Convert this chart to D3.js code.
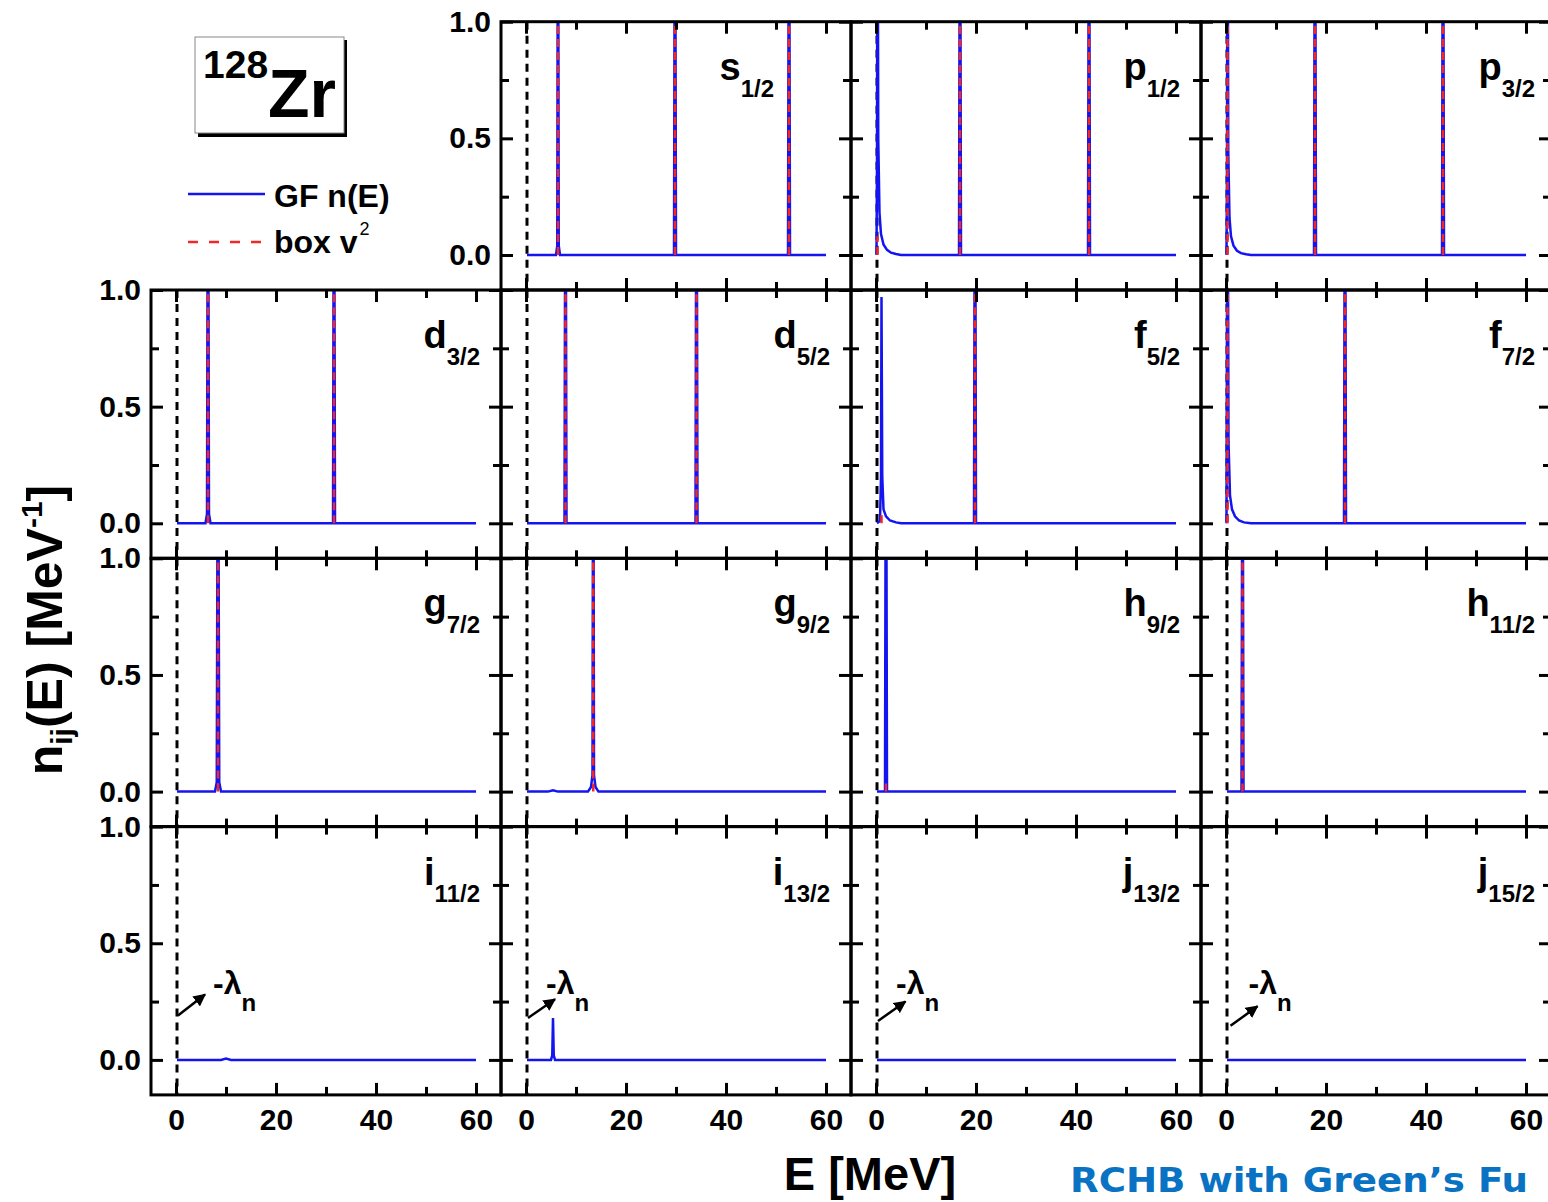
<!DOCTYPE html>
<html>
<head>
<meta charset="utf-8">
<script src="https://cdn.jsdelivr.net/npm/d3@7"></script>
<style>
    body { margin: 0; background: #fff; }
    svg { display: block; font-family: "Liberation Sans", Arial, sans-serif; font-weight: bold; }
</style>
</head>
<body>
<svg id="graph-svg" width="1548" height="1202"></svg>
<script>
// axis ticks (E in MeV, n in MeV^-1)
var xTicksMajor = [0, 20, 40, 60];
var xTicksMinor = [10, 30, 50];
var yTicksMajor = [0, 0.5, 1.0];
var yTicksMinor = [0.25, 0.75];
var yTickLabels = ['0.0', '0.5', '1.0'];

// panel names, in reading order (top row has no first column)
var orbitals = ['s', 'p', 'p', 'd', 'd', 'f', 'f', 'g', 'g', 'h', 'h', 'i', 'i', 'j', 'j'];
var jValues = ['1/2', '1/2', '3/2', '3/2', '5/2', '5/2', '7/2', '7/2', '9/2', '9/2', '11/2', '11/2', '13/2', '13/2', '15/2'];

// -lambda_n (MeV)
var lambdaN = 0.2;

// GF n(E): [E, n]
var gfS12 = [[0.2, 0], [6.0, 0], [6.25, 0.04], [6.4, 2], [6.55, 0.04], [6.8, 0], [29.6, 0], [29.8, 2], [30.0, 0], [52.4, 0], [52.6, 2], [52.8, 0], [60, 0]];
var gfP12 = [[0.1, 0], [0.2, 0.4], [0.3, 2], [0.45, 0.5], [0.7, 0.18], [1.0, 0.09], [1.5, 0.045], [2.2, 0.022], [3.0, 0.01], [4.0, 0.004], [5.0, 0], [16.6, 0], [16.8, 2], [17.0, 0], [42.4, 0], [42.6, 2], [42.8, 0], [60, 0]];
var gfP32 = [[0.1, 0], [0.2, 0.4], [0.3, 2], [0.45, 0.45], [0.7, 0.16], [1.0, 0.08], [1.5, 0.04], [2.2, 0.018], [3.0, 0.008], [4.0, 0.003], [5.0, 0], [17.6, 0], [17.8, 2], [18.0, 0], [43.2, 0], [43.4, 2], [43.6, 0], [60, 0]];
var gfD32 = [[0.2, 0], [5.9, 0], [6.2, 0.04], [6.4, 2], [6.6, 0.04], [6.9, 0], [31.4, 0], [31.6, 2], [31.8, 0], [60, 0]];
var gfD52 = [[0.2, 0], [7.7, 0], [7.9, 2], [8.1, 0], [33.9, 0], [34.1, 2], [34.3, 0], [60, 0]];
var gfF52 = [[0.2, 0], [0.8, 0.01], [1.0, 0.2], [1.1, 0.97], [1.25, 0.2], [1.5, 0.06], [2.0, 0.03], [2.8, 0.012], [4.0, 0.004], [5.0, 0], [19.6, 0], [19.8, 2], [20.0, 0], [60, 0]];
var gfF72 = [[0.1, 0], [0.3, 2], [0.5, 0.35], [0.8, 0.12], [1.2, 0.06], [1.8, 0.03], [2.6, 0.012], [3.6, 0.004], [5.0, 0], [23.6, 0], [23.8, 2], [24.0, 0], [60, 0]];
var gfG72 = [[0.2, 0], [7.8, 0], [8.15, 0.04], [8.4, 2], [8.65, 0.04], [9.0, 0], [60, 0]];
var gfG92 = [[0.2, 0], [4.4, 0], [5.4, 0.006], [6.4, 0], [12.4, 0], [13.0, 0.02], [13.3, 0.07], [13.45, 2], [13.6, 0.07], [13.9, 0.02], [14.5, 0], [60, 0]];
var gfH92 = [[0.2, 0], [1.8, 0], [2.0, 2], [2.2, 0], [60, 0]];
var gfH112 = [[0.2, 0], [3.1, 0], [3.3, 2], [3.5, 0], [60, 0]];
var gfI112 = [[0.2, 0], [9.0, 0], [10.0, 0.006], [11.0, 0], [60, 0]];
var gfI132 = [[0.2, 0], [5.0, 0], [5.25, 0.02], [5.4, 0.18], [5.55, 0.02], [5.8, 0], [60, 0]];
var gfJ132 = [[0.2, 0], [60, 0]];
var gfJ152 = [[0.2, 0], [60, 0]];

// box v^2: [E, height of the level line]
var boxS12 = [[6.4, 2], [29.8, 2], [52.6, 2]];
var boxP12 = [[0.3, 0.08], [16.8, 2], [42.6, 2]];
var boxP32 = [[0.3, 2], [17.8, 2], [43.4, 2]];
var boxD32 = [[6.4, 2], [31.6, 2]];
var boxD52 = [[7.9, 2], [34.1, 2]];
var boxF52 = [[1.1, 0.04], [19.8, 2]];
var boxF72 = [[0.3, 2], [23.8, 2]];
var boxG72 = [[8.4, 2]];
var boxG92 = [[13.45, 2]];
var boxH92 = [[2.0, 0.04]];
var boxH112 = [[3.3, 2]];
var boxI112 = [];
var boxI132 = [];
var boxJ132 = [];
var boxJ152 = [];

var gfSeries = [gfS12, gfP12, gfP32, gfD32, gfD52, gfF52, gfF72, gfG72, gfG92, gfH92, gfH112, gfI112, gfI132, gfJ132, gfJ152];
var boxSeries = [boxS12, boxP12, boxP32, boxD32, boxD52, boxF52, boxF72, boxG72, boxG92, boxH92, boxH112, boxI112, boxI132, boxJ132, boxJ152];

function loadGraph() {
    var svg = d3.select('#graph-svg');

    var left = 151,
        top = 21.7,
        panelW = 350,
        panelH = 268.3;

    var xScale = d3.scaleLinear().domain([-5, 65]).range([0, panelW]),
        yScale = d3.scaleLinear().domain([-0.15, 1.0]).range([panelH, 0]);

    var line = d3.line()
        .x(function (d) { return xScale(d[0]); })
        .y(function (d) { return yScale(d[1]); });

    var blue = '#1414f0',
        red = '#f02828';

    svg.append('marker')
        .attr('id', 'arrow')
        .attr('viewBox', '0 0 10 10')
        .attr('refX', 9)
        .attr('refY', 5)
        .attr('markerWidth', 5)
        .attr('markerHeight', 5)
        .attr('orient', 'auto')
        .append('path')
        .attr('d', 'M0,0L10,5L0,10z')
        .attr('fill', 'black');

    // small fixes for where the panel label sits from the right edge
    var labelInset = { 0: 77 };

    orbitals.forEach(function (orb, i) {
        var row = i < 3 ? 0 : Math.floor((i + 1) / 4),
            col = i < 3 ? i + 1 : (i + 1) % 4;
        var g = svg.append('g')
            .attr('transform', 'translate(' + (left + col * panelW) + ',' + (top + row * panelH) + ')');

        g.append('clipPath')
            .attr('id', 'clip' + i)
            .append('rect')
            .attr('width', panelW)
            .attr('height', panelH);

        var plot = g.append('g').attr('clip-path', 'url(#clip' + i + ')');

        // -lambda_n line
        plot.append('line')
            .attr('x1', xScale(lambdaN))
            .attr('x2', xScale(lambdaN))
            .attr('y1', 0)
            .attr('y2', panelH)
            .attr('stroke', 'black')
            .attr('stroke-width', 3)
            .attr('stroke-dasharray', '8,6');

        plot.append('path')
            .datum(gfSeries[i])
            .attr('d', line)
            .attr('fill', 'none')
            .attr('stroke', blue)
            .attr('stroke-width', 2.5);

        plot.selectAll('.level')
            .data(boxSeries[i])
            .enter()
            .append('line')
            .attr('class', 'level')
            .attr('x1', function (d) { return xScale(d[0]); })
            .attr('x2', function (d) { return xScale(d[0]); })
            .attr('y1', yScale(0))
            .attr('y2', function (d) { return yScale(d[1]); })
            .attr('stroke', red)
            .attr('stroke-width', 2.5)
            .attr('stroke-dasharray', '8,5');

        // ticks on all four sides, pointing in
        var axes = [
            [d3.axisBottom, 'x', 'translate(0,' + panelH + ')'],
            [d3.axisTop, 'x', 'translate(0,0)'],
            [d3.axisLeft, 'y', 'translate(0,0)'],
            [d3.axisRight, 'y', 'translate(' + panelW + ',0)']
        ];
        axes.forEach(function (a) {
            var sc = a[1] == 'x' ? xScale : yScale;
            var major = a[1] == 'x' ? xTicksMajor : yTicksMajor;
            var minor = a[1] == 'x' ? xTicksMinor : yTicksMinor;
            var ga = g.append('g').attr('transform', a[2]);
            ga.append('g').call(a[0](sc).tickValues(major).tickSize(-12).tickFormat(''));
            ga.append('g').call(a[0](sc).tickValues(minor).tickSize(-8).tickFormat(''));
            ga.selectAll('.domain').remove();
            ga.selectAll('.tick line').attr('stroke-width', 3).attr('stroke', 'black');
        });

        g.append('rect')
            .attr('width', panelW)
            .attr('height', panelH)
            .attr('fill', 'none')
            .attr('stroke', 'black')
            .attr('stroke-width', 3);

        // tick labels
        if (row == 3) {
            var bx = g.append('g')
                .attr('transform', 'translate(0,' + panelH + ')')
                .call(d3.axisBottom(xScale).tickValues(xTicksMajor).tickSize(0).tickPadding(14));
            bx.select('.domain').remove();
            bx.selectAll('text').attr('font-size', 30).attr('font-family', '"Liberation Sans", Arial, sans-serif').attr('font-weight', 'bold').attr('fill', 'black');
        }
        if (col == 0 || (row == 0 && col == 1)) {
            var ly = g.append('g')
                .call(d3.axisLeft(yScale).tickValues(yTicksMajor).tickSize(0).tickPadding(10)
                    .tickFormat(function (d, k) { return yTickLabels[k]; }));
            ly.select('.domain').remove();
            ly.selectAll('text').attr('font-size', 30).attr('font-family', '"Liberation Sans", Arial, sans-serif').attr('font-weight', 'bold').attr('fill', 'black');
        }

        // panel label
        var inset = labelInset[i] != null ? labelInset[i] : (col == 3 ? 16 : 21);
        var lab = g.append('text')
            .attr('x', panelW - inset)
            .attr('y', 58)
            .attr('text-anchor', 'end')
            .attr('font-size', 38);
        lab.append('tspan').text(orb);
        lab.append('tspan').attr('font-size', 24).attr('dy', 17).text(jValues[i]);

        // -lambda_n arrow in bottom row
        if (row == 3) {
            var arr = [[0.4, 0.19, 5.8, 0.28, 7.4], [0.4, 0.18, 5.8, 0.26, 4.0], [0.4, 0.167, 5.9, 0.25, 4.0], [0.9, 0.146, 6.3, 0.23, 4.5]][col];
            g.append('line')
                .attr('x1', xScale(arr[0]))
                .attr('y1', yScale(arr[1]))
                .attr('x2', xScale(arr[2]))
                .attr('y2', yScale(arr[3]))
                .attr('stroke', 'black')
                .attr('stroke-width', 2.5)
                .attr('marker-end', 'url(#arrow)');
            var lt = g.append('text')
                .attr('x', xScale(arr[4]))
                .attr('y', yScale(0.283))
                .attr('font-size', 32);
            lt.append('tspan').text('-\u03bb');
            lt.append('tspan').attr('font-size', 24).attr('dy', 17).text('n');
        }
    });

    // nucleus box
    svg.append('rect').attr('x', 198).attr('y', 40).attr('width', 149).attr('height', 97).attr('fill', 'black');
    svg.append('rect').attr('x', 195).attr('y', 37).attr('width', 149).attr('height', 96)
        .attr('fill', 'white').attr('stroke', '#888').attr('stroke-width', 1);
    svg.append('text').attr('x', 203).attr('y', 78).attr('font-size', 39).text('128');
    svg.append('text').attr('x', 268).attr('y', 117).attr('font-size', 68).text('Zr');

    // legend
    svg.append('line').attr('x1', 188).attr('x2', 265).attr('y1', 194).attr('y2', 194)
        .attr('stroke', blue).attr('stroke-width', 2.5);
    svg.append('text').attr('x', 274).attr('y', 207).attr('font-size', 32).text('GF n(E)');
    svg.append('line').attr('x1', 188).attr('x2', 265).attr('y1', 242).attr('y2', 242)
        .attr('stroke', red).attr('stroke-width', 2.5).attr('stroke-dasharray', '10,11');
    var bl = svg.append('text').attr('x', 274).attr('y', 253).attr('font-size', 32);
    bl.append('tspan').text('box v');
    bl.append('tspan').attr('font-size', 18).attr('font-weight', 'normal').attr('dy', -18).attr('dx', 2).text('2');

    // axis titles
    svg.append('text')
        .attr('x', 870)
        .attr('y', 1190)
        .attr('text-anchor', 'middle')
        .attr('font-size', 47)
        .text('E [MeV]');

    var yt = svg.append('text')
        .attr('transform', 'translate(62,630) rotate(-90)')
        .attr('text-anchor', 'middle')
        .attr('font-size', 50);
    yt.append('tspan').text('n');
    yt.append('tspan').attr('font-size', 30).attr('dy', 10).text('ij');
    yt.append('tspan').attr('dy', -10).text('(E) [MeV');
    yt.append('tspan').attr('font-size', 30).attr('dy', -20).text('-1');
    yt.append('tspan').attr('dy', 20).text(']');

    svg.append('text')
        .attr('x', 1070)
        .attr('y', 1192)
        .attr('font-family', '"DejaVu Sans", sans-serif')
        .attr('font-size', 34)
        .attr('textLength', 458)
        .attr('lengthAdjust', 'spacingAndGlyphs')
        .attr('fill', '#0a72c2')
        .text('RCHB with Green\u2019s Fu');
}

loadGraph();
</script>
</body>
</html>
